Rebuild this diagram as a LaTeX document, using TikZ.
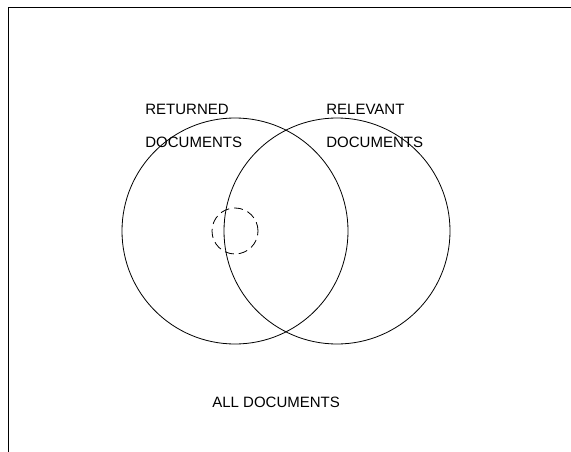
\documentclass[tikz,border=0pt]{standalone}
\usepackage{fontspec}
\setmainfont{Liberation Sans}
\usepackage{tikz}

\begin{document}
\begin{tikzpicture}[x=1pt,y=-1pt,line width=.8pt,
  every node/.style={inner sep=0pt,font=\fontsize{15}{18}\selectfont},
  setcirc/.style={draw,circle,minimum size=226pt},
  label/.style={anchor=base west}]
\useasboundingbox (0,0) rectangle (571,452);
\coordinate (bl) at (8,452);
\coordinate (tl) at (8,7);
\coordinate (tr) at (571,7);
\draw (bl)--(tl)--(tr);
\node[setcirc] (returned) at (235,231) {};
\node[setcirc] (relevant) at (337,231) {};
\node[draw,circle,dash pattern=on 9pt off 5pt,minimum size=46pt] (found) at (235,231) {};
\node[label] (rettop) at (145,114) {RETURNED};
\node[label] (retbot) at (145,147) {DOCUMENTS};
\node[label] (reltop) at (326,114) {RELEVANT};
\node[label] (relbot) at (326,147) {DOCUMENTS};
\node[label] (all) at (212,407) {ALL DOCUMENTS};
\end{tikzpicture}
\end{document}
